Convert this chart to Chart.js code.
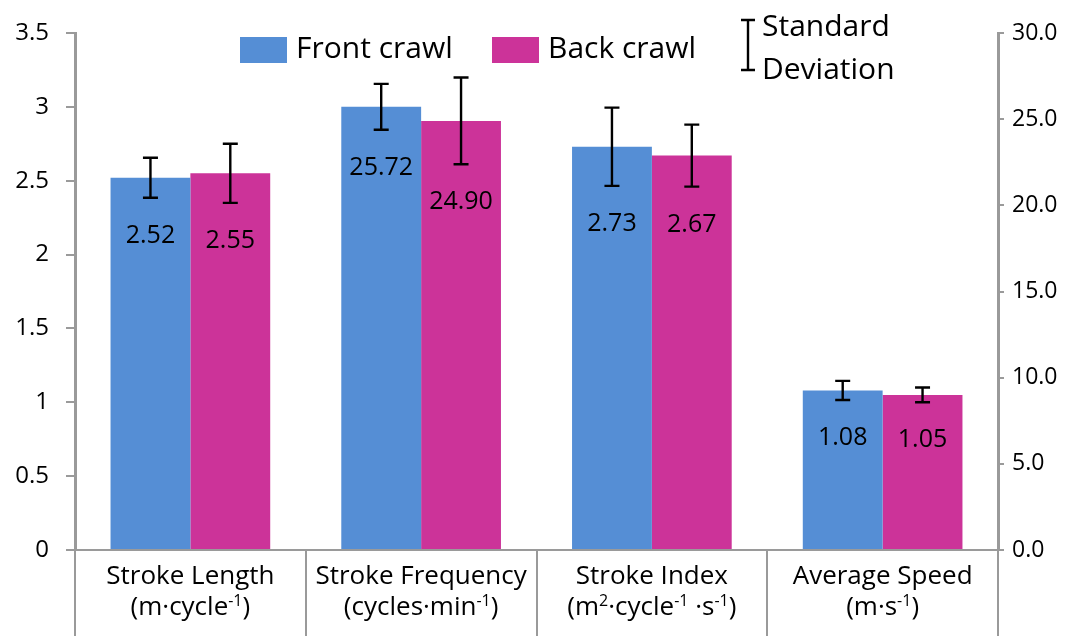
<!DOCTYPE html>
<html>
<head>
<meta charset="utf-8">
<script src="https://cdn.jsdelivr.net/npm/chart.js@4"></script>
<style>
  html, body { margin: 0; padding: 0; background: #ffffff; }
  #wrap { width: 1071px; height: 636px; position: relative; }
</style>
</head>
<body>
<div id="wrap"><canvas id="chart"></canvas></div>
<script>
// Swimming kinematics: front crawl vs back crawl (mean ± standard deviation)
const categories = [
  ['Stroke Length', '(m\u00b7cycle\u207b\u00b9)'],
  ['Stroke Frequency', '(cycles\u00b7min\u207b\u00b9)'],
  ['Stroke Index', '(m\u00b2\u00b7cycle\u207b\u00b9 \u00b7s\u207b\u00b9)'],
  ['Average Speed', '(m\u00b7s\u207b\u00b9)']
];
const frontCrawl = [2.52, 25.72, 2.73, 1.08];
const backCrawl  = [2.55, 24.90, 2.67, 1.05];
const frontSD    = [0.135, 1.33, 0.265, 0.065];
const backSD     = [0.20, 2.52, 0.21, 0.05];
// metrics read against the right-hand axis
const onRightAxis = [false, true, false, false];
const leftTicks  = [0, 0.5, 1, 1.5, 2, 2.5, 3, 3.5];
const rightTicks = [0, 5, 10, 15, 20, 25, 30];

const FONT = "'Open Sans', 'DejaVu Sans', sans-serif";
const BLUE = '#558ed5';
const PINK = '#cc3399';
const AXIS = '#9a9a9a';

// split one series into a left-axis part and a right-axis part
function part(values, right) {
  return values.map((v, i) => (onRightAxis[i] === right ? v : null));
}
function series(label, values, sd, color, stack) {
  return [false, true].map(right => ({
    label: label,
    data: part(values, right),
    sd: part(sd, right),
    yAxisID: right ? 'y1' : 'y',
    stack: stack,
    backgroundColor: color,
    borderWidth: 0,
    barPercentage: 1.0,
    categoryPercentage: 0.692
  }));
}

const datasets = [
  ...series('Front crawl', frontCrawl, frontSD, BLUE, 'front'),
  ...series('Back crawl', backCrawl, backSD, PINK, 'back')
];

// text with superscript characters drawn small and raised
const SUP = { '\u207b': '-', '\u00b9': '1', '\u00b2': '2', '\u00b3': '3' };
function drawRich(ctx, text, cx, cy, size) {
  const runs = [];
  for (const ch of text) {
    const sup = ch in SUP;
    const c = sup ? SUP[ch] : ch;
    if (runs.length && runs[runs.length - 1].sup === sup) runs[runs.length - 1].t += c;
    else runs.push({ sup: sup, t: c });
  }
  const fontFor = r => (r.sup ? Math.round(size * 0.62) : size) + 'px ' + FONT;
  let total = 0;
  runs.forEach(r => { ctx.font = fontFor(r); r.w = ctx.measureText(r.t).width; total += r.w; });
  let x = cx - total / 2;
  ctx.textAlign = 'left';
  ctx.textBaseline = 'alphabetic';
  runs.forEach(r => {
    ctx.font = fontFor(r);
    ctx.fillText(r.t, x, cy + size * 0.36 - (r.sup ? size * 0.36 : 0));
    x += r.w;
  });
}

// category labels under the x axis
const categoryLabels = {
  id: 'categoryLabels',
  afterDraw(chart) {
    const ctx = chart.ctx;
    const xs = chart.scales.x;
    ctx.save();
    ctx.fillStyle = '#000';
    chart.data.labels.forEach((lines, i) => {
      const x = xs.getPixelForTick(i);
      lines.forEach((line, k) => drawRich(ctx, line, x, xs.top + 25 + k * 31, 26));
    });
    ctx.restore();
  }
};

// error bars and value labels drawn on top of the bars
const barDecorations = {
  id: 'barDecorations',
  afterDatasetsDraw(chart) {
    const ctx = chart.ctx;
    ctx.save();
    chart.data.datasets.forEach((ds, di) => {
      const meta = chart.getDatasetMeta(di);
      const scale = chart.scales[ds.yAxisID];
      ds.data.forEach((v, i) => {
        if (v === null) return;
        const x = meta.data[i].x;
        const sd = ds.sd[i];
        const yTop = scale.getPixelForValue(v + sd);
        const yBot = scale.getPixelForValue(v - sd);
        ctx.strokeStyle = '#000';
        ctx.lineWidth = 2.4;
        ctx.beginPath();
        ctx.moveTo(x, yTop); ctx.lineTo(x, yBot);
        ctx.moveTo(x - 7.5, yTop); ctx.lineTo(x + 7.5, yTop);
        ctx.moveTo(x - 7.5, yBot); ctx.lineTo(x + 7.5, yBot);
        ctx.stroke();
        // value label inside the bar, just below the error bar
        ctx.fillStyle = '#000';
        ctx.font = '25px ' + FONT;
        ctx.textAlign = 'center';
        ctx.textBaseline = 'middle';
        ctx.fillText(v.toFixed(2), x, yBot + 38);
      });
    });
    ctx.restore();
  }
};

// legend: series swatches plus the standard deviation marker
const customLegend = {
  id: 'customLegend',
  afterDraw(chart) {
    const ctx = chart.ctx;
    ctx.save();
    ctx.font = '30px ' + FONT;
    ctx.textBaseline = 'middle';
    ctx.textAlign = 'left';
    const items = [chart.data.datasets[0], chart.data.datasets[2]];
    const xs = [240, 492];
    items.forEach((ds, k) => {
      ctx.fillStyle = ds.backgroundColor;
      ctx.fillRect(xs[k], 37, 47, 26);
      ctx.fillStyle = '#000';
      ctx.fillText(ds.label, xs[k] + 56, 49);
    });
    // error bar symbol
    ctx.strokeStyle = '#000';
    ctx.lineWidth = 2.4;
    ctx.beginPath();
    ctx.moveTo(748, 20); ctx.lineTo(748, 70);
    ctx.moveTo(741, 20); ctx.lineTo(755, 20);
    ctx.moveTo(741, 70); ctx.lineTo(755, 70);
    ctx.stroke();
    ctx.fillText('Standard', 762, 27);
    ctx.fillText('Deviation', 762, 70);
    ctx.restore();
  }
};

new Chart(document.getElementById('chart'), {
  type: 'bar',
  data: { labels: categories, datasets: datasets },
  options: {
    responsive: true,
    maintainAspectRatio: false,
    devicePixelRatio: 1,
    animation: false,
    layout: { padding: { top: 33, left: 0, right: 0, bottom: 0 } },
    plugins: { legend: { display: false }, tooltip: { enabled: false } },
    scales: {
      x: {
        offset: true,
        afterFit(s) { s.height = 86; },
        border: { display: true, color: AXIS, width: 2 },
        grid: { offset: true, drawOnChartArea: false, drawTicks: true, tickLength: 86, color: AXIS, lineWidth: 2 },
        ticks: { display: false }
      },
      y: {
        position: 'left',
        min: 0, max: 3.5,
        afterFit(s) { s.width = 75; },
        afterBuildTicks(s) { s.ticks = leftTicks.map(v => ({ value: v })); },
        border: { display: true, color: AXIS, width: 3 },
        grid: { drawOnChartArea: false, drawTicks: true, tickLength: 9, color: AXIS, lineWidth: 2 },
        ticks: { color: '#000', font: { family: FONT, size: 24 }, padding: 17,
                 callback: v => String(v) }
      },
      y1: {
        position: 'right',
        min: 0, max: 30,
        afterFit(s) { s.width = 73; },
        afterBuildTicks(s) { s.ticks = rightTicks.map(v => ({ value: v })); },
        border: { display: true, color: AXIS, width: 3 },
        grid: { drawOnChartArea: false, drawTicks: true, tickLength: 6, color: AXIS, lineWidth: 2 },
        ticks: { color: '#000', font: { family: FONT, size: 23 }, padding: 8,
                 callback: v => Number(v).toFixed(1) }
      }
    }
  },
  plugins: [barDecorations, customLegend, categoryLabels]
});
</script>
</body>
</html>
